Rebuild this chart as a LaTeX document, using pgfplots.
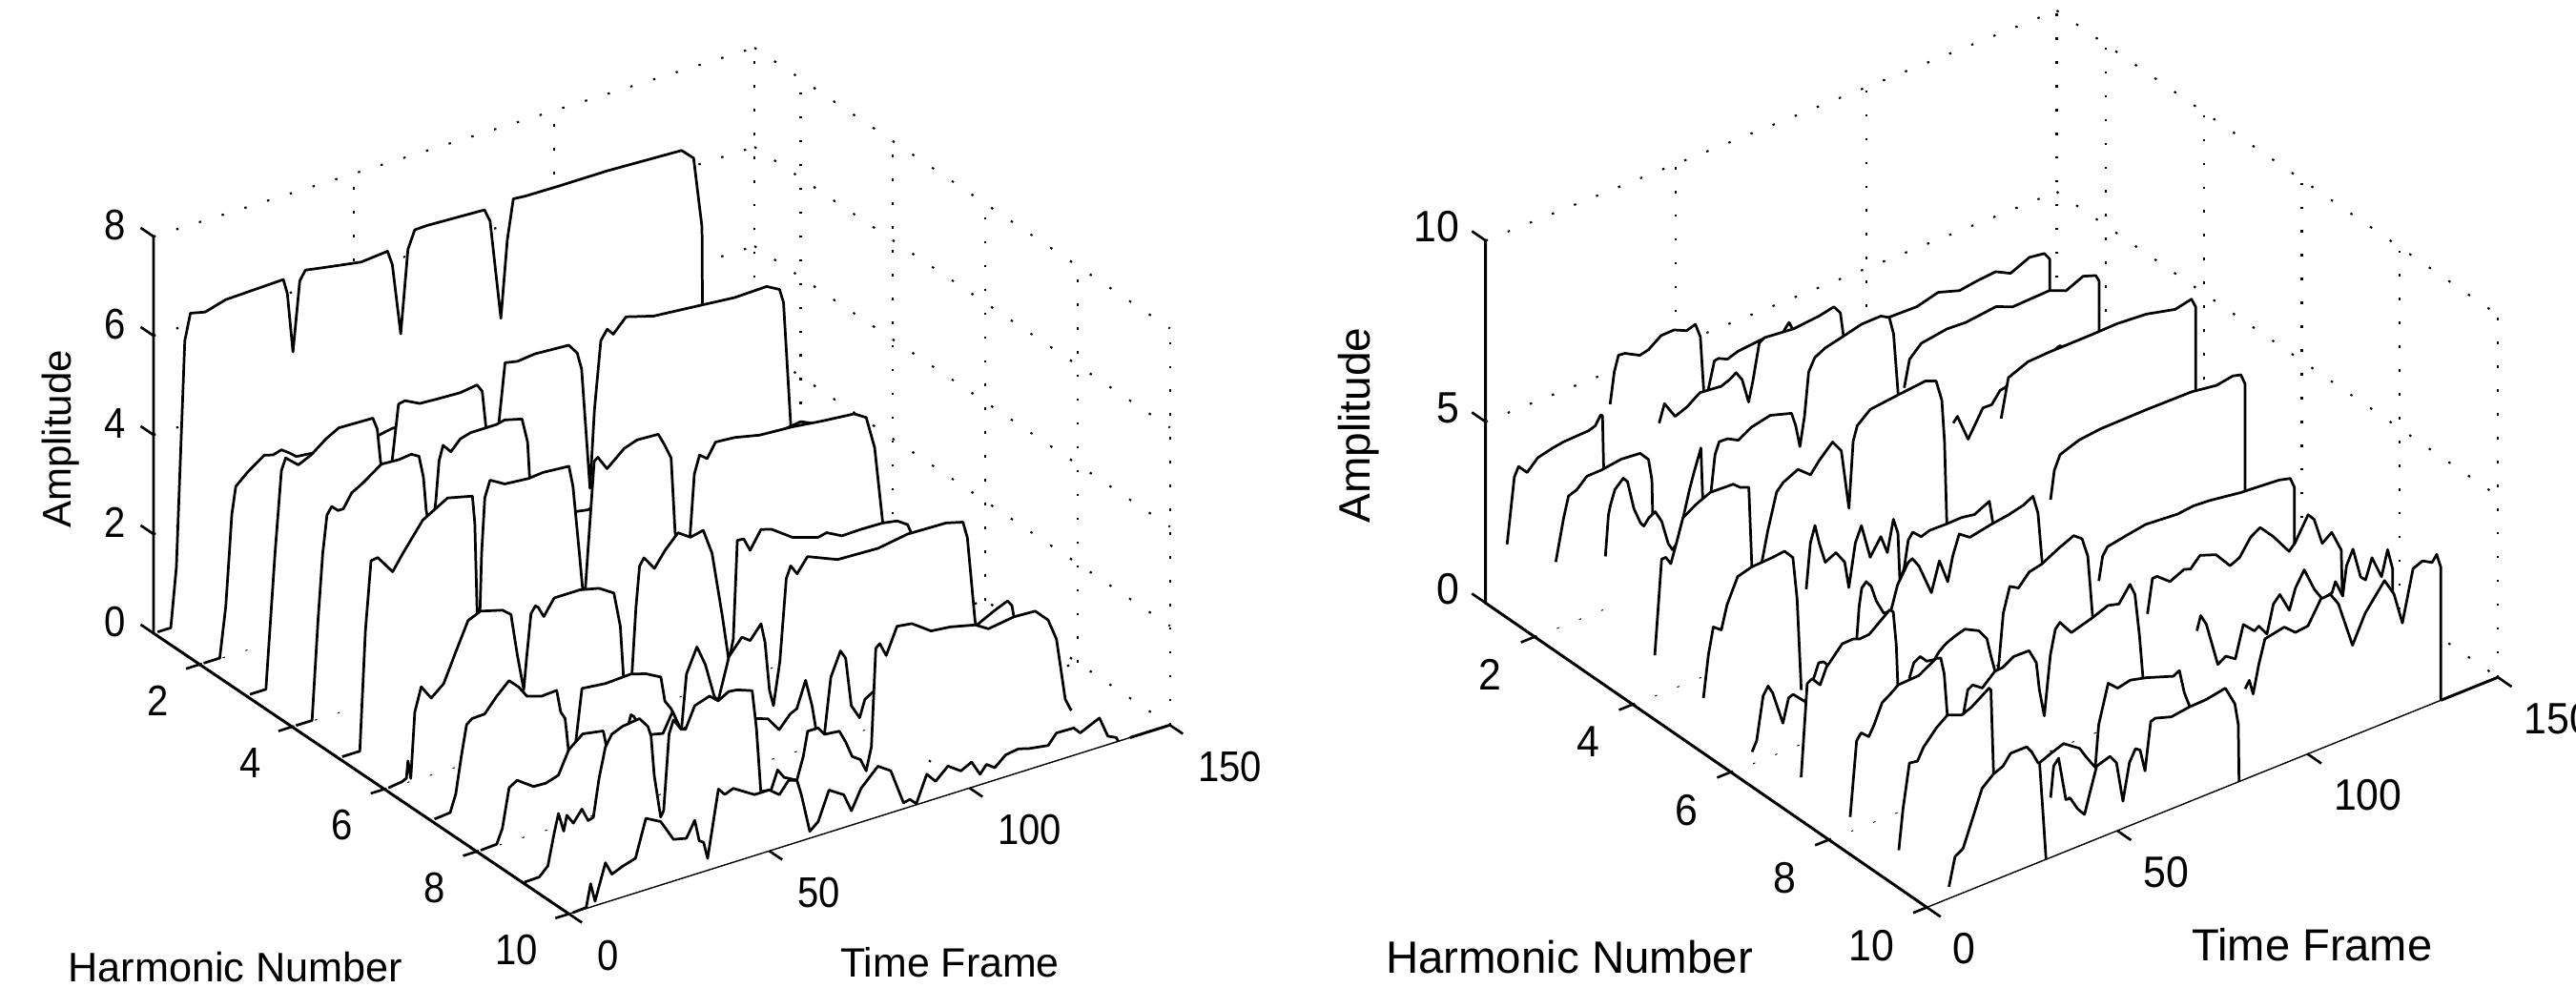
\documentclass[border=0pt]{standalone}
\usepackage{fontspec}
\setmainfont{Liberation Sans}
\newfontfamily\lf[FakeStretch=0.89]{Liberation Sans}
\newfontfamily\rf[FakeStretch=0.93]{Liberation Sans}
\usepackage{pgfplots}
\pgfplotsset{compat=1.18}
\newcommand\seg[2]{%
 \addplot3[draw=none,fill=white] table[x index=0,y expr=#1,z index=1,row sep=\\]{#2};
 \addplot3[black,line width=0.78pt,line join=round,skip coords between index={0}{1}] table[x index=0,y expr=#1,z index=1,row sep=\\]{#2};
}
\newcommand\gl[2]{\addplot3[black,line width=.6pt,dash pattern=on 0.7pt off 6.4pt] coordinates {(#1) (#2)};}
\newcommand\tk[2]{\addplot3[black,line width=.75pt] coordinates {(#1) (#2)};}
\pgfplotsset{wf/.style={clip=false,
 xmin=0,xmax=150,ymin=1,ymax=10,zmin=0,
 xtick={0,50,100,150},ytick={2,4,6,8,10},
 axis line style={draw=none},
 tick align=outside,tick style={draw=none},major tick length=0.18cm,
 /pgf/number format/assume math mode=true,
 anchor=origin}}
\begin{document}
\begin{tikzpicture}
\path[use as bounding box] (0,0) rectangle (27.01,10.36);
% ---------- left ----------
\begin{axis}[wf,at={(1.61cm,3.72cm)},
 x={(0.0420cm,0.0132cm)},y={(0.484cm,-0.327cm)},z={(0cm,0.52cm)},
 zmax=8,ztick={0,2,4,6,8},
 ticklabel style={font=\lf\fontsize{12.8pt}{15pt}\selectfont,inner sep=0pt},
 xticklabel style={anchor=north west,xshift=.14cm,yshift=-.17cm},
 yticklabel style={anchor=north east,xshift=-.15cm,yshift=-.16cm},
 zticklabel style={anchor=east,xshift=-.14cm,yshift=.02cm}]
\gl{0,1,2}{150,1,2}\gl{0,1,4}{150,1,4}\gl{0,1,6}{150,1,6}\gl{0,1,8}{150,1,8}
\gl{50,1,0}{50,1,8}\gl{100,1,0}{100,1,8}\gl{150,1,0}{150,1,8}
\gl{150,1,2}{150,10,2}\gl{150,1,4}{150,10,4}\gl{150,1,6}{150,10,6}\gl{150,1,8}{150,10,8}
\gl{150,2,0}{150,2,8}\gl{150,4,0}{150,4,8}\gl{150,6,0}{150,6,8}\gl{150,8,0}{150,8,8}\gl{150,10,0}{150,10,8}
\gl{0,2,0}{150,2,0}\gl{0,4,0}{150,4,0}\gl{0,6,0}{150,6,0}\gl{0,8,0}{150,8,0}
\gl{50,1,0}{50,10,0}\gl{100,1,0}{100,10,0}\gl{150,1,0}{150,10,0}
\seg{1}{0 0\\1 0\\4.3 0\\5.7 1.19\\7.8 5.70\\9.2 6.22\\12.9 6.15\\18 6.27\\32.4 6.31\\33.4 6.0\\34.8 4.79\\36.5 6.18\\37.9 6.36\\43.6 6.28\\51.8 6.17\\58.4 6.22\\59.6 5.92\\61.7 4.47\\63.5 6.13\\65.2 6.48\\68.2 6.49\\82.6 6.44\\84 6.18\\86.7 4.15\\88.3 5.69\\89.8 6.48\\92.8 6.46\\101 6.45\\113.3 6.45\\131.8 6.39\\134.8 6.16\\136.9 4.71\\137 3.19\\137 0\\}
\seg{2}{0 0\\1 0\\5 0\\6.5 1.0\\7.4 2.06\\8 2.81\\9 3.36\\11.9 3.57\\16.1 3.81\\18.3 3.76\\20.4 3.81\\22.5 3.69\\24.1 3.58\\27.8 3.55\\44.8 3.49\\48 3.54\\58 3.5\\60 2.5\\61.5 1\\65 0.6\\100 0.6\\135 0.5\\137 0\\}
\seg{3}{0 0\\1 0\\5 0\\7.28 2.69\\8.87 4.31\\9.93 4.54\\13.1 4.32\\16.3 4.44\\20 4.67\\23.2 4.81\\31.7 4.79\\32.8 4.54\\33.6 3.88\\35 3.2\\36.5 3.80\\38.1 4.91\\39.7 4.94\\43.4 4.79\\47.6 4.77\\53.5 4.75\\57.7 4.80\\59 4.64\\59.9 3.91\\61.5 3.0\\63.1 3.86\\64.7 5.07\\67.8 5.02\\72.1 5.06\\80.6 5.02\\82.7 4.81\\83.8 4.46\\85.9 2.0\\87 3.55\\88.6 4.91\\90.2 5.10\\91.7 4.96\\94.9 5.23\\101.8 5.07\\113.5 4.99\\122 4.93\\130 4.95\\133.2 4.81\\134.2 4.52\\136 2.01\\137 0\\}
\seg{4}{0 0\\1 0\\5 0\\6.5 2\\7.67 3.31\\8.73 4.05\\9.9 4.19\\11.5 4.07\\12.8 4.07\\14.9 4.34\\17.55 4.46\\22.3 4.73\\26.6 4.71\\29.8 4.74\\31.7 4.65\\32.8 4.20\\33.5 3.51\\34.8 2.9\\35.9 3.65\\36.7 4.43\\37.7 4.72\\39.65 4.54\\42 4.74\\44.6 4.80\\51 4.80\\53.1 4.84\\57.4 4.75\\58.8 4.25\\59.3 3.53\\61 2.2\\71 2.54\\73.9 2.50\\78 2.6\\85 2.0\\92 1.2\\102 1.2\\110 2.6\\120 2.85\\127 2.93\\129.4 2.84\\131 1.5\\137 0\\}
\seg{5}{0 0\\1 0\\5.4 0\\6.8 2.40\\8.2 3.77\\9.9 3.79\\13.6 3.41\\16 3.70\\21.1 4.26\\27.3 4.55\\33.5 4.43\\34.1 3.87\\34.7 2.01\\35.3 1.8\\35.8 3.22\\36.6 4.32\\37.9 4.64\\41.6 4.47\\47.5 4.43\\51.2 4.46\\57.6 4.42\\58.6 3.99\\60.2 2.60\\61.4 1.5\\62.3 2.55\\63.9 4.36\\64.8 4.42\\67.1 4.13\\71.4 4.43\\74.6 4.52\\79.9 4.50\\81.5 4.24\\83.1 3.94\\84.1 2.41\\85.5 1.5\\87.8 2.22\\88.9 3.47\\90.2 3.82\\92.1 3.70\\94.2 3.98\\99 3.95\\105.2 3.84\\113.4 3.80\\120.6 3.73\\128.8 3.67\\131.8 3.52\\133.9 2.86\\135.9 1.31\\136.5 0.6\\137 0\\}
\seg{6}{0 0\\1 0\\4.5 0.04\\5.5 0.08\\5.9 0.42\\6.6 0.05\\7.6 1.36\\9.2 1.83\\11.7 1.54\\14.8 1.75\\17.8 2.31\\20.9 2.87\\24 2.98\\29.5 2.86\\31.6 2.72\\33.2 1.86\\34.8 1.12\\35.5 1.74\\36.6 2.61\\37.7 2.74\\38.4 2.69\\39.8 2.47\\42.4 2.78\\48.8 2.78\\53.6 2.69\\57.3 2.50\\58.9 1.79\\59.7 0.74\\61 0.5\\61.8 0.75\\62.8 2.07\\63.7 2.88\\64.8 3.02\\67.4 2.74\\70.1 3.04\\73.3 3.31\\76.4 3.14\\79.6 3.20\\81.8 2.68\\84.4 1.33\\86 0.40\\87.1 0.82\\88.1 2.78\\89.7 2.77\\91.3 2.50\\94 2.85\\96.6 2.79\\101.9 2.49\\108.3 2.33\\110.4 2.37\\114.2 2.21\\118.9 2.22\\124.3 2.21\\128 2.16\\130.6 2.02\\131.5 1.83\\134 1.0\\137 0\\}
\seg{7}{0 0\\1 0\\4.9 0.03\\6.3 0.37\\7.7 1.10\\9 1.70\\10.4 1.79\\13.5 1.80\\16.5 2.08\\19.6 2.32\\22 2.13\\24.1 1.89\\27.7 1.80\\31.5 1.82\\32.5 1.36\\33.6 1.20\\34.6 0.41\\36.2 0.62\\37.8 1.70\\43.7 1.65\\50 1.68\\53.8 1.59\\57.5 1.43\\58.5 0.92\\60.1 0.72\\62.6 0.21\\63.9 1.33\\66.5 1.81\\68.6 1.40\\70.8 0.71\\71.8 0.59\\74.5 1.41\\77.7 1.72\\79.8 1.60\\82.5 1.87\\83.5 1.47\\84.6 0.48\\85.6 0.14\\87.2 0.99\\88.8 2.62\\89.9 2.85\\91.5 2.65\\94.1 2.93\\101.6 2.68\\111.7 2.65\\119.1 2.75\\128.7 2.73\\132.9 2.64\\134 2.30\\135.9 0.59\\137 0\\}
\seg{8}{0 0\\1 0\\5 0.02\\6.4 0.30\\8.1 1.08\\10.1 1.18\\14.2 0.95\\17.3 0.94\\20.4 1.02\\23 1.47\\26.5 1.70\\31.6 1.63\\32.7 1.16\\35 0.6\\36.5 1.2\\38.5 1.78\\39.3 1.72\\42 1.2\\43.3 1.26\\46.5 1.20\\48.9 1.58\\51 1.16\\56 1.2\\60 0.5\\61.5 0.3\\65 1.0\\69.8 0.91\\72.7 0.83\\75.5 0.54\\78.3 0.79\\79.9 0.85\\82.1 1.37\\83.7 0.82\\84.7 0.31\\86 0.1\\86.8 0.16\\88.4 1.27\\90.8 1.74\\92.1 1.56\\93.5 0.57\\95.6 0.27\\96.9 0.61\\99 0.71\\115 1.0\\129.3 1.58\\132.5 1.69\\133.6 1.57\\134.1 1.33\\137 0\\}
\seg{9}{0 0\\0.41 0\\4.1 0.01\\6.25 0.18\\7.85 0.81\\8.9 1.17\\10.2 0.78\\11 1.08\\12.6 0.88\\14.75 1.11\\16.3 0.84\\17.6 0.87\\19 1.61\\20.6 2.21\\22.2 2.43\\24.85 2.52\\29.1 2.57\\31.2 2.36\\32 2.15\\32.8 1.33\\34.4 0.45\\35.15 0.56\\36.5 2.07\\37.6 2.33\\39.5 2.09\\40.6 2.06\\42.9 2.48\\46.6 2.58\\48.75 2.43\\51.4 2.55\\53.5 2.53\\57.25 2.42\\58.3 1.64\\59.4 0.33\\62 0.30\\63.6 0.66\\65.2 0.47\\68.4 0.33\\70 0.77\\71.1 1.25\\73.7 1.25\\75.3 1.08\\79 1.05\\80.6 0.79\\82.2 0.46\\84.3 0.34\\85.7 0.08\\87 0.53\\88.1 2.49\\89.1 2.56\\90.7 2.28\\93.4 2.80\\97.1 2.76\\101.9 2.49\\106.7 2.45\\113 2.33\\116.2 2.17\\122.6 2.25\\127.9 2.23\\131.1 1.97\\133.2 1.53\\135.4 0.26\\136.7 0.03\\137 0\\}
\seg{10}{0 0\\1 0\\4.3 0.02\\5.4 0.47\\6.5 0.09\\9.1 0.80\\10.7 0.53\\13.4 0.62\\16.6 0.70\\19.2 1.44\\22.9 1.28\\26.1 0.84\\29.3 0.78\\31.4 1.09\\32.5 0.65\\33.6 0.59\\34.6 0.24\\37.3 1.57\\38.9 1.42\\41 1.49\\46.3 1.23\\50 1.23\\52.5 1.07\\54.8 1.30\\56.9 1.25\\58 0.93\\60.1 0.14\\62.2 0.28\\64.9 0.85\\68.6 0.66\\70.5 0.29\\72.9 0.68\\77.1 1.02\\80.3 0.85\\83.5 0.12\\85.1 0.15\\86.7 0.02\\89.3 0.55\\91.5 0.35\\94.6 0.58\\97.8 0.40\\100.5 0.51\\102.6 0.21\\104.2 0.37\\106.3 0.25\\109 0.44\\112.2 0.48\\114.8 0.42\\119.6 0.36\\121.7 0.56\\126 0.55\\127.6 0.41\\132.4 0.59\\134.5 0.17\\136.6 0.09\\137.1 0\\}
\addplot3[black,line width=.85pt] coordinates {(0,1,8) (0,1,0) (0,10,0)};
\addplot3[black,line width=.4pt] coordinates {(0,10,0) (150,10,0)};
\addplot3[black,line width=.85pt] coordinates {(140,10,0) (150,10,0)};
\tk{0,10,0}{0,10.28,0}\tk{50,10,0}{50,10.28,0}\tk{100,10,0}{100,10.28,0}\tk{150,10,0}{150,10.28,0}
\tk{0,2,0}{-3.4,2,0}\tk{0,4,0}{-3.4,4,0}\tk{0,6,0}{-3.4,6,0}\tk{0,8,0}{-3.4,8,0}\tk{0,10,0}{-3.4,10,0}
\tk{0,1,0}{0,0.72,0}\tk{0,1,2}{0,0.72,2}\tk{0,1,4}{0,0.72,4}\tk{0,1,6}{0,0.72,6}\tk{0,1,8}{0,0.72,8}
\end{axis}
% ---------- right ----------
\begin{axis}[wf,at={(15.577cm,4.037cm)},
 x={(0.03992cm,0.01608cm)},y={(0.5141cm,-0.3546cm)},z={(0cm,0.38cm)},
 zmax=10,ztick={0,5,10},
 ticklabel style={font=\rf\fontsize{13.1pt}{15pt}\selectfont,inner sep=0pt},
 xticklabel style={anchor=north west,xshift=.12cm,yshift=-.16cm},
 yticklabel style={anchor=north east,xshift=-.17cm,yshift=-.16cm},
 zticklabel style={anchor=east,xshift=-.12cm,yshift=.04cm}]
\gl{0,1,5}{150,1,5}\gl{0,1,10}{150,1,10}
\gl{50,1,0}{50,1,10}\gl{100,1,0}{100,1,10}\gl{150,1,0}{150,1,10}
\gl{150,1,5}{150,10,5}\gl{150,1,10}{150,10,10}
\gl{150,2,0}{150,2,10}\gl{150,4,0}{150,4,10}\gl{150,6,0}{150,6,10}\gl{150,8,0}{150,8,10}\gl{150,10,0}{150,10,10}
\gl{0,2,0}{150,2,0}\gl{0,4,0}{150,4,0}\gl{0,6,0}{150,6,0}\gl{0,8,0}{150,8,0}
\gl{50,1,0}{50,10,0}\gl{100,1,0}{100,10,0}\gl{150,1,0}{150,10,0}
\seg{1}{5.64 0\\5.64 1.38\\7.55 3.16\\8.66 3.40\\10.9 3.14\\13.7 3.43\\17.6 3.53\\20.4 3.58\\27.1 3.61\\28.8 3.67\\30.2 3.91\\30.7 3.87\\31 2.43\\31 0\\}
\seg{1}{32.7 0\\32.7 4.10\\33.8 4.95\\34.9 5.36\\36.6 5.34\\40.5 5.12\\42.8 5.18\\46.1 5.43\\49.5 5.44\\52.8 5.28\\55.1 5.36\\56.4 4.96\\57.3 3.43\\57.3 0\\}
\seg{1}{58.4 0\\58.4 3.38\\60.1 4.14\\61.2 4.16\\63.5 4.04\\66.3 4.14\\73 4.21\\75.2 4.07\\78 4.15\\79.7 4.37\\80.6 4.15\\81.5 0\\}
\seg{1}{85 0\\85 2.0\\110 2.5\\134 2.5\\134 0\\}
\seg{2}{5.55 0\\5.55 1.83\\7.6 2.95\\8.9 3.51\\11.1 3.59\\13.7 3.85\\17.6 3.86\\22.7 3.94\\27.7 3.89\\29.9 3.63\\30.8 3.03\\31 2.05\\31 0\\}
\seg{2}{32.7 0\\32.7 4.51\\34.1 4.99\\36.9 4.52\\40 4.65\\43.4 4.90\\49 4.84\\51.2 4.93\\52.9 5.05\\54.5 4.79\\56.2 4.10\\57.3 4.62\\59 5.61\\60.4 5.70\\68 5.62\\74.7 5.69\\78.6 5.78\\80.3 5.54\\81.1 4.89\\81.5 0\\}
\seg{2}{84 0\\84 3.5\\88 4.6\\93.1 4.88\\100.4 4.86\\106 5.02\\111.6 4.83\\116 4.90\\121.1 4.95\\125 4.74\\130 4.97\\133.9 4.91\\135.3 4.70\\135.3 2.9\\135.3 0\\}
\seg{3}{5.7 0\\5.7 2.91\\6.5 4.02\\7 4.26\\8.2 4.65\\10.4 4.87\\11.5 4.73\\13.2 3.91\\14.9 3.45\\15.8 3.32\\17.1 3.49\\18.8 3.59\\20.5 3.25\\22.2 2.57\\23.3 2.35\\24.4 2.47\\26.1 3.10\\27.8 3.82\\28.9 4.22\\30.8 4.84\\31.3 3.32\\31.4 0\\}
\seg{3}{33.3 0\\33.3 3.37\\34.5 4.50\\35.6 4.81\\37.8 4.80\\40.6 4.64\\44 4.85\\49 4.97\\54.6 4.79\\55.7 4.40\\56.8 3.78\\58 4.56\\59.1 5.74\\60.7 6.07\\63.5 6.22\\68.6 6.35\\73 6.47\\78.1 6.48\\80.3 6.34\\81.4 5.85\\82.6 4.14\\82.6 0\\}
\seg{3}{84.2 0\\84.2 4.24\\85.6 4.97\\88.7 5.28\\95.4 5.39\\100.4 5.36\\108.3 5.46\\112.7 5.27\\122.3 5.31\\126.7 5.12\\131.2 5.33\\134.5 5.21\\135.4 5.02\\135.4 0\\}
\seg{4}{5.8 0\\5.8 1.11\\7.6 3.69\\8.7 3.69\\10 3.46\\11.5 3.97\\13.2 4.59\\16.5 4.81\\20.4 4.99\\26.4 4.96\\28.3 4.79\\30.5 4.70\\31.3 2.47\\31.3 0\\}
\seg{4}{33.3 0\\33.3 2.17\\35.5 3.30\\37.8 4.26\\39.5 4.45\\43.4 4.65\\46.7 4.36\\49 4.66\\52.5 5.02\\54.8 4.68\\56.8 3.01\\57.9 4.81\\59 5.20\\62.4 5.50\\69.6 5.59\\76.9 5.67\\79.7 5.55\\81.2 4.96\\81.9 3.79\\82.5 1.53\\82.5 0\\}
\seg{4}{84.2 0\\84.2 4.20\\85.3 4.34\\88.1 3.59\\92 4.29\\94.3 4.28\\96.5 4.58\\98 4.61\\100 4.8\\105 4.9\\109.9 5.05\\112.1 5.15\\114.4 5.01\\118 4.95\\123.9 5.03\\125.6 5.02\\130 4.8\\134 4.6\\135 0\\}
\seg{5}{5.7 0\\5.7 0.87\\7 2.0\\8.3 2.72\\10.4 2.55\\11.9 3.18\\14.7 3.84\\18.4 3.95\\23.8 3.98\\27 4.02\\29.2 3.75\\30.3 2.57\\31.4 0\\}
\seg{5}{32.7 0\\32.7 2.73\\33.8 3.96\\35 4.39\\36.1 3.86\\37.7 3.26\\40.5 3.41\\42.8 3.05\\43.9 2.30\\45.6 3.46\\47.2 3.87\\49.5 2.90\\52.3 3.35\\54 2.84\\55.6 3.69\\56.8 3.25\\57.3 1.91\\58.4 2.21\\59.5 2.95\\60.7 3.12\\62.9 2.90\\65.1 2.98\\69.6 2.97\\73.5 2.98\\76.9 2.92\\80.8 3.12\\81.7 2.50\\81.8 0\\}
\seg{5}{83.9 0\\83.9 5.27\\85.8 6.32\\90.9 6.54\\96.4 6.57\\107.6 6.58\\114.3 6.60\\122 6.54\\129.6 6.35\\133.9 6.45\\135 6.19\\135 3.88\\135 0\\}
\seg{6}{5.6 0\\5.6 0.32\\6.8 0.58\\8.5 1.74\\9.8 1.96\\11 1.72\\13.7 0.77\\15.2 1.41\\16.4 1.45\\19.6 1.11\\21.9 1.70\\23.1 2.04\\24.4 2.01\\25.6 1.85\\28 1.5\\30.5 1.0\\31 0\\}
\seg{6}{33.1 0\\33.1 2.28\\33.7 3.13\\34.4 3.62\\35.6 3.75\\36.9 3.56\\38.2 3.11\\40.2 2.68\\42.1 2.68\\43.8 3.31\\46.6 3.81\\47.7 3.87\\49.4 3.60\\52.7 2.72\\54.8 3.51\\57 2.84\\58.3 3.49\\60 4.03\\62.8 3.82\\68.4 3.94\\72.9 4.01\\76.8 4.11\\79.4 4.25\\80.7 3.73\\81.8 2.32\\82 0\\}
\seg{6}{84 0\\84 3.96\\85 4.73\\86.5 5.10\\91.5 5.29\\97.1 5.36\\109.1 5.38\\121.1 5.37\\127.6 5.27\\131.9 5.35\\134 5.29\\135.1 4.99\\135.1 0\\}
\seg{7}{5.6 0\\5.6 0.55\\7.2 3.07\\8.5 3.15\\10.6 2.89\\12.2 3.30\\16.4 3.78\\19.3 3.79\\21 3.72\\23.5 3.74\\26 3.95\\28.9 4.19\\29.8 4.09\\30.6 3.14\\31 2.02\\31 0\\}
\seg{7}{34 0\\34 2.07\\35.2 2.46\\36.9 2.56\\38.6 2.36\\40.6 2.32\\41.9 2.49\\43.6 2.63\\46.1 2.74\\48.6 2.82\\52.3 2.62\\54.4 2.31\\55.4 1.82\\56.5 1.34\\57.3 1.31\\57.6 1.56\\58.7 2.83\\60.4 3.50\\62.7 3.36\\65.5 3.68\\68.8 3.76\\73.3 4.01\\77.2 4.19\\79.4 4.01\\80.9 3.47\\82.2 1.70\\82.3 0\\}
\seg{7}{83.8 0\\83.8 2.66\\84.8 3.30\\86.1 3.51\\91.1 3.61\\96.1 3.70\\104.5 3.63\\108.6 3.68\\112.8 3.65\\121.2 3.52\\125.3 3.49\\131.2 3.44\\134.1 3.36\\135.2 3.06\\135.2 0\\}
\seg{8}{5.6 0\\5.6 0.39\\7.3 2.42\\8.5 2.59\\10.5 2.40\\11.9 2.67\\14 3.19\\16.1 3.33\\18.2 3.50\\23.6 3.53\\25.7 3.66\\28.2 3.81\\29.4 3.77\\30.3 3.30\\31.1 2.16\\31.2 0\\}
\seg{8}{35.3 0\\35.3 1.94\\36.5 2.59\\37.8 2.67\\40.3 2.48\\43.6 2.80\\45.7 2.82\\48.6 3.00\\52.6 2.99\\54.5 2.58\\55.3 1.80\\56.6 1.02\\58.2 2.64\\59.5 3.29\\60.7 3.43\\63.7 3.02\\69.1 3.19\\73.3 3.36\\76.2 3.28\\79.1 3.70\\80.4 3.37\\81.6 2.18\\82.5 1.0\\82.5 0\\}
\seg{8}{83.7 0\\83.7 2.69\\85 3.61\\86.2 3.62\\89.6 3.33\\93.3 3.51\\95 3.45\\97.5 3.72\\101.7 3.56\\105.4 3.10\\107.9 3.22\\110.8 3.66\\113.3 3.82\\116.7 3.43\\120.9 2.84\\122.4 3.00\\125.9 3.64\\127.5 3.44\\129.6 2.69\\132.1 2.89\\134.6 2.30\\134.9 1.02\\135 0\\}
\seg{9}{5.5 0\\5.5 0.41\\6.6 1.50\\8.3 2.70\\10.4 2.66\\12 2.98\\15.4 3.37\\18.3 3.60\\22 3.44\\24.6 3.55\\29.2 3.88\\29.7 3.81\\30.4 1.46\\30.5 0\\}
\seg{9}{33 0\\33 1.0\\38 1.2\\42.5 1.26\\45.4 1.39\\48.8 1.52\\53 1.21\\54.6 0.92\\57.1 0.51\\58 1.65\\60.5 2.69\\63 2.45\\66.3 2.53\\70.5 2.42\\77.6 2.16\\79.2 2.25\\80.5 1.58\\82 1.12\\82 0\\}
\seg{9}{83.8 0\\83.8 3.15\\84.8 3.53\\86.3 3.22\\89.3 1.99\\91.4 2.13\\93.9 1.95\\96 2.81\\98.9 2.51\\100.1 2.59\\102.2 2.28\\103.9 3.04\\105.6 3.23\\108.1 2.69\\109.7 3.24\\112 3.64\\114.7 2.98\\116.8 2.63\\119.3 2.70\\120.2 2.97\\122.1 2.49\\123.1 3.28\\124.8 3.67\\126.8 2.82\\128.1 2.68\\129.8 3.22\\132.3 2.59\\133.9 3.27\\135.2 2.69\\135.2 2.20\\135.2 0\\}
\seg{10}{5.8 0\\5.8 0.32\\7.4 1.09\\9.5 1.22\\11.6 1.83\\14.5 2.67\\17.5 2.94\\20 3.05\\22 3.32\\26.2 3.32\\27.5 3.13\\29.2 2.75\\29.6 2.73\\30.4 1.47\\31.2 0.17\\31.3 0\\}
\seg{10}{32.5 0\\32.5 1.65\\33.3 2.49\\34.6 2.65\\36.5 1.43\\37.7 1.41\\39.6 1.04\\41.4 0.81\\42.9 1.38\\44.6 2.01\\48.1 2.13\\49.8 1.88\\51.5 0.75\\53.2 1.74\\54.8 2.06\\56 1.97\\57.3 1.34\\58.8 2.64\\60 2.68\\64.2 2.54\\68.8 2.61\\73.4 2.63\\78.4 2.73\\80.9 2.19\\81.8 1.58\\82 0\\}
\seg{10}{83.6 0\\83.6 2.49\\84.7 2.68\\85.7 2.26\\87.2 3.02\\88.8 3.65\\93.9 3.76\\96.8 3.49\\100.1 3.53\\103.5 4.13\\106 4.15\\108.1 3.80\\111.8 2.50\\115.1 3.24\\120.2 3.93\\122.7 3.45\\124.9 2.56\\127.7 3.94\\130.2 4.05\\132.7 3.90\\133.9 4.07\\135 3.67\\135 0\\}
\addplot3[black,line width=.85pt] coordinates {(0,1,10) (0,1,0) (0,10,0)};
\addplot3[black,line width=.4pt] coordinates {(0,10,0) (150,10,0)};
\addplot3[black,line width=.85pt] coordinates {(135,10,0) (150,10,0)};
\tk{0,10,0}{0,10.28,0}\tk{50,10,0}{50,10.28,0}\tk{100,10,0}{100,10.28,0}\tk{150,10,0}{150,10.28,0}
\tk{0,2,0}{-3.6,2,0}\tk{0,4,0}{-3.6,4,0}\tk{0,6,0}{-3.6,6,0}\tk{0,8,0}{-3.6,8,0}\tk{0,10,0}{-3.6,10,0}
\tk{0,1,0}{0,0.72,0}\tk{0,1,5}{0,0.72,5}\tk{0,1,10}{0,0.72,10}
\end{axis}
\node[font=\fontsize{12.3pt}{15pt}\selectfont] at (2.47,0.22) {Harmonic Number};
\node[font=\fontsize{12.2pt}{15pt}\selectfont] at (9.96,0.27) {Time Frame};
\node[font=\fontsize{11.95pt}{15pt}\selectfont,rotate=90] at (0.635,5.755) {Amplitude};
\node[font=\fontsize{13.5pt}{17pt}\selectfont] at (16.455,0.32) {Harmonic Number};
\node[font=\fontsize{13.4pt}{16pt}\selectfont] at (24.244,0.45) {Time Frame};
\node[font=\fontsize{13.1pt}{15pt}\selectfont,rotate=90] at (14.245,5.9) {Amplitude};
\end{tikzpicture}
\end{document}
